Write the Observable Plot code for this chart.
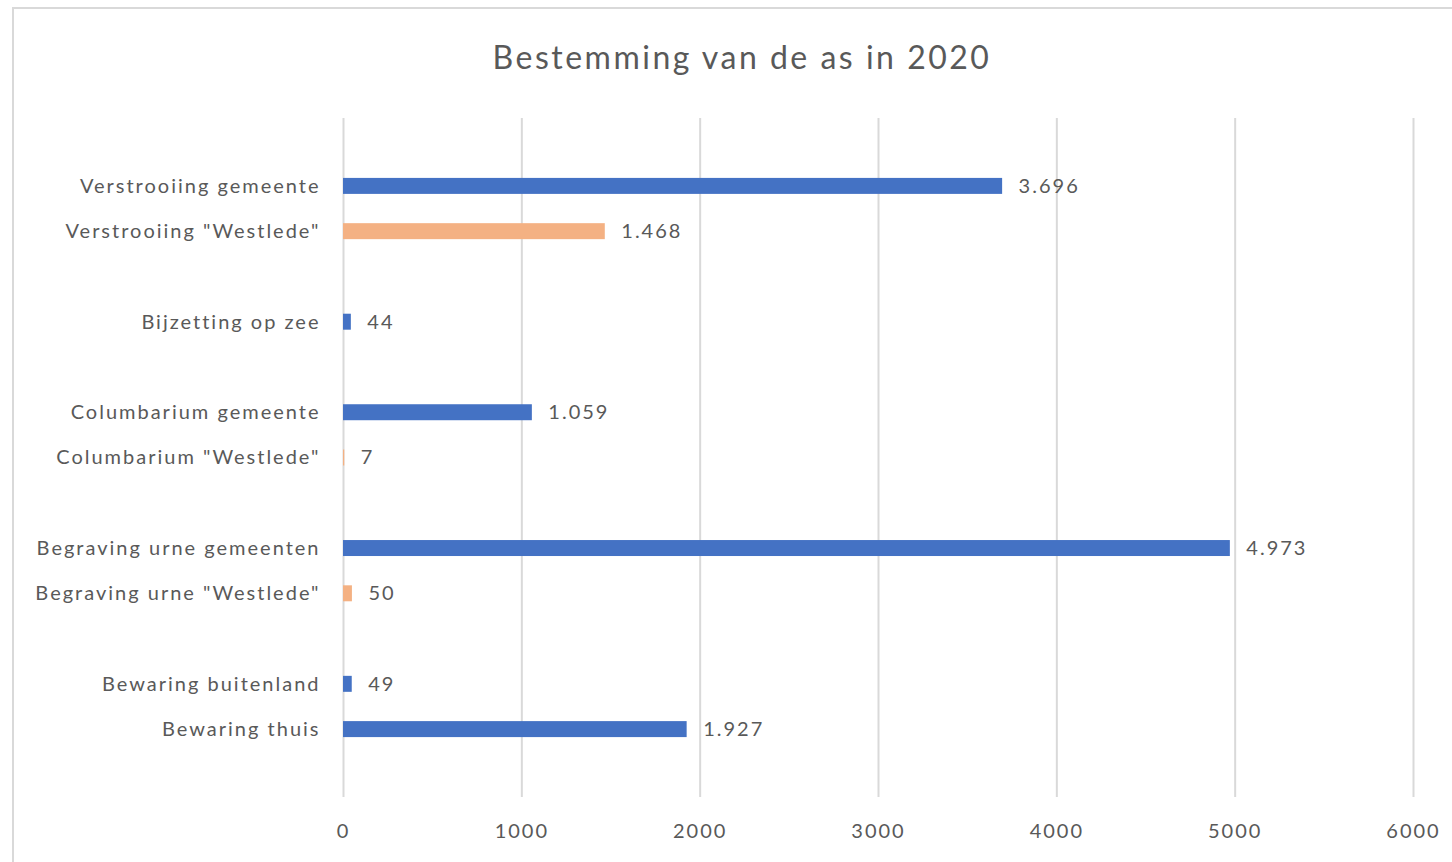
<!DOCTYPE html>
<html>
<head>
<meta charset="utf-8">
<script src="https://cdn.jsdelivr.net/npm/d3@7"></script>
<script src="https://cdn.jsdelivr.net/npm/@observablehq/plot@0.6"></script>
<style>
  html, body { margin: 0; padding: 0; background: #fff; overflow: hidden; }
  #frame { position: absolute; left: 12px; top: 7px; width: 1470px; height: 880px; border: 2px solid #d9d9d9; box-sizing: border-box; }
  #title { position: absolute; left: 0; top: 37px; width: 1484px; text-align: center; font-family: Lato, "Open Sans", sans-serif; font-size: 32px; letter-spacing: 2.5px; color: #595959; line-height: 40px; }
  #chart { position: absolute; left: 0; top: 90px; }
  #chart svg text { letter-spacing: 2px; }
</style>
</head>
<body>
<div id="frame"></div>
<div id="title">Bestemming van de as in 2020</div>
<div id="chart"></div>
<script>
const categories = [
  "Verstrooiing gemeente",
  "Verstrooiing \"Westlede\"",
  "Bijzetting op zee",
  "Columbarium gemeente",
  "Columbarium \"Westlede\"",
  "Begraving urne gemeenten",
  "Begraving urne \"Westlede\"",
  "Bewaring buitenland",
  "Bewaring thuis"
];
const values = [3696, 1468, 44, 1059, 7, 4973, 50, 49, 1927];
const series = ["gemeente", "Westlede", "gemeente", "gemeente", "Westlede", "gemeente", "Westlede", "gemeente", "gemeente"];
const yOrder = ["_a", categories[0], categories[1], "_b", categories[2], "_c", categories[3], categories[4], "_d", categories[5], categories[6], "_e", categories[7], categories[8], "_f"];
const xTicks = [0, 1000, 2000, 3000, 4000, 5000, 6000];

const data = categories.map((c, i) => ({category: c, value: values[i], series: series[i]}));
const nl = d3.formatLocale({decimal: ",", thousands: ".", grouping: [3], currency: ["€", ""]});
const fmt = nl.format(",d");

const chart = Plot.plot({
  width: 1452,
  height: 772,
  marginLeft: 343,
  marginRight: 39,
  marginTop: 28,
  marginBottom: 65,
  style: {fontFamily: "Lato, 'Open Sans', sans-serif", fontSize: "20px", color: "#595959", background: "transparent"},
  x: {domain: [0, 6000], ticks: xTicks, tickFormat: d => String(d), tickSize: 0, tickPadding: 26, label: null},
  y: {domain: yOrder, round: false, paddingInner: 0.647, paddingOuter: 0.3235, tickSize: 0, tickPadding: 23, label: null,
      tickFormat: d => d.startsWith("_") ? "" : d},
  color: {domain: ["gemeente", "Westlede"], range: ["#4472c4", "#f4b183"]},
  marks: [
    Plot.ruleX(xTicks, {stroke: "#d9d9d9", strokeWidth: 2}),
    Plot.barX(data, {x: "value", y: "category", fill: "series"}),
    Plot.text(data, {x: "value", y: "category", text: d => fmt(d.value), textAnchor: "start", dx: 16, fill: "#595959", fontSize: 20})
  ]
});
document.getElementById("chart").appendChild(chart);
</script>
</body>
</html>
